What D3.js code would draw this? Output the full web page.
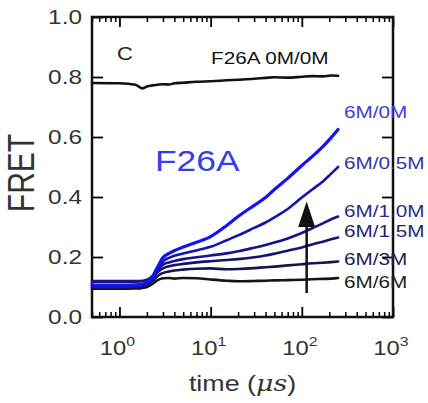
<!DOCTYPE html>
<meta charset="utf-8">
<style>
  body { margin: 0; background: #fff; }
  svg text { font-family: "Liberation Sans", Arial, sans-serif; }
</style>
<div id="chart"></div>
<script src="https://d3js.org/d3.v7.min.js"></script>
<script>

// time points in microseconds
var times = [0.5, 1, 1.5, 1.8, 2, 2.3, 2.6, 3, 3.5, 4, 5, 7, 10, 15, 20, 30, 40, 50, 70, 100, 130, 170, 210, 250];

// FRET traces
var wt0 = [0.78, 0.779, 0.774, 0.762, 0.768, 0.772, 0.774, 0.776, 0.775, 0.779, 0.781, 0.784, 0.786, 0.789, 0.791, 0.794, 0.797, 0.799, 0.798, 0.801, 0.803, 0.802, 0.805, 0.804];
var s0   = [0.106, 0.106, 0.107, 0.110, 0.116, 0.135, 0.165, 0.198, 0.212, 0.221, 0.233, 0.249, 0.268, 0.305, 0.335, 0.372, 0.398, 0.425, 0.462, 0.505, 0.535, 0.568, 0.598, 0.625];
var s05  = [0.100, 0.100, 0.101, 0.104, 0.110, 0.128, 0.155, 0.185, 0.197, 0.204, 0.212, 0.222, 0.234, 0.256, 0.272, 0.297, 0.315, 0.332, 0.360, 0.398, 0.425, 0.452, 0.478, 0.500];
var s10  = [0.120, 0.120, 0.120, 0.121, 0.124, 0.136, 0.155, 0.174, 0.182, 0.187, 0.193, 0.199, 0.205, 0.212, 0.219, 0.231, 0.240, 0.248, 0.262, 0.280, 0.296, 0.312, 0.326, 0.335];
var s15  = [0.118, 0.118, 0.118, 0.119, 0.121, 0.132, 0.148, 0.162, 0.169, 0.173, 0.177, 0.182, 0.186, 0.190, 0.193, 0.199, 0.205, 0.211, 0.221, 0.232, 0.242, 0.251, 0.259, 0.265];
var s3   = [0.098, 0.098, 0.099, 0.101, 0.106, 0.120, 0.136, 0.147, 0.152, 0.155, 0.158, 0.161, 0.162, 0.159, 0.160, 0.163, 0.166, 0.168, 0.172, 0.176, 0.179, 0.181, 0.183, 0.185];
var s6   = [0.094, 0.094, 0.095, 0.097, 0.100, 0.110, 0.122, 0.129, 0.130, 0.128, 0.130, 0.129, 0.125, 0.121, 0.119, 0.120, 0.121, 0.122, 0.123, 0.124, 0.126, 0.127, 0.128, 0.130];

var seriesNames = ["F26A 0M/0M", "6M/0M", "6M/0.5M", "6M/1.0M", "6M/1.5M", "6M/3M", "6M/6M"];
var seriesValues = [wt0, s0, s05, s10, s15, s3, s6];
var lineColors = ["#111", "#1414ee", "#1414aa", "#14148c", "#141470", "#14144a", "#151515"];
var labelColors = ["#111", "#3c3ce0", "#3434a8", "#2c2c8c", "#262670", "#22224c", "#222"];

var yTicks = [0.0, 0.2, 0.4, 0.6, 0.8, 1.0];
var xDecades = [1, 10, 100, 1000];

var width = 428, height = 403;
var margin = {top: 17, right: 35, bottom: 86, left: 92};
var sx = 1.22; // text in the figure is drawn wide

var svg = d3.select("#chart").append("svg")
    .attr("width", width)
    .attr("height", height);

var x = d3.scaleLog()
    .domain([0.5, 1000])
    .range([margin.left, width - margin.right]);

var y = d3.scaleLinear()
    .domain([0, 1])
    .range([height - margin.bottom, margin.top]);

var x0 = x.range()[0], x1 = x.range()[1];
var y0 = y.range()[0], y1 = y.range()[1];

function wide(px, py) { return "translate(" + px + "," + py + ") scale(" + sx + ",1)"; }

// minor ticks for log axis
var minorTicks = [];
[0.1, 1, 10, 100].forEach(function(d) {
  for (var k = 2; k <= 9; k++) {
    var v = d * k;
    if (v >= 0.5 && v < 1000) minorTicks.push(v);
  }
});

function drawXTicks(axisFn, ypos) {
  svg.append("g")
    .attr("transform", "translate(0," + ypos + ")")
    .call(axisFn(x).tickValues(minorTicks).tickSize(-5).tickFormat(""))
    .call(function(g) { g.select(".domain").remove(); g.selectAll("line").attr("stroke-width", 1.5); });
  svg.append("g")
    .attr("transform", "translate(0," + ypos + ")")
    .call(axisFn(x).tickValues(xDecades).tickSize(-10).tickFormat(""))
    .call(function(g) { g.select(".domain").remove(); g.selectAll("line").attr("stroke-width", 1.8); });
}
drawXTicks(d3.axisBottom, y0);
drawXTicks(d3.axisTop, y1);

svg.append("g")
  .attr("transform", "translate(" + x0 + ",0)")
  .call(d3.axisLeft(y).tickValues(yTicks).tickSize(-11).tickFormat(""))
  .call(function(g) { g.select(".domain").remove(); g.selectAll("line").attr("stroke-width", 1.8); });
svg.append("g")
  .attr("transform", "translate(" + x1 + ",0)")
  .call(d3.axisRight(y).tickValues(yTicks).tickSize(-11).tickFormat(""))
  .call(function(g) { g.select(".domain").remove(); g.selectAll("line").attr("stroke-width", 1.8); });

// frame
svg.append("rect")
  .attr("x", x0).attr("y", y1)
  .attr("width", x1 - x0).attr("height", y0 - y1)
  .attr("fill", "none").attr("stroke", "#111").attr("stroke-width", 2.5);

// y tick labels
svg.append("g").selectAll("text")
  .data(yTicks)
  .enter().append("text")
    .attr("transform", function(d) { return wide(x0 - 10, y(d)); })
    .attr("dy", "0.36em")
    .attr("text-anchor", "end")
    .attr("font-size", 20)
    .attr("fill", "#333")
    .text(function(d) { return d.toFixed(1); });

// x tick labels 10^n
var xl = svg.append("g").selectAll("text")
  .data(xDecades)
  .enter().append("text")
    .attr("transform", function(d) { return wide(x(d) - 2, y0 + 38); })
    .attr("text-anchor", "middle")
    .attr("font-size", 19.5)
    .attr("fill", "#333");
xl.append("tspan").text("10");
xl.append("tspan")
  .attr("dy", -9)
  .attr("font-size", 13)
  .text(function(d) { return Math.round(Math.log10(d)); });

// axis titles
svg.append("text")
  .attr("transform", "translate(21,173) scale(" + sx + ",1) rotate(-90)")
  .attr("dy", "0.36em")
  .attr("text-anchor", "middle")
  .attr("font-size", 30)
  .attr("fill", "#333")
  .text("FRET");

var xt = svg.append("text")
  .attr("transform", wide((x0 + x1) / 2, y0 + 74))
  .attr("text-anchor", "middle")
  .attr("font-size", 22)
  .attr("fill", "#333");
xt.append("tspan").text("time (");
xt.append("tspan").attr("font-style", "italic").attr("font-family", "DejaVu Serif, serif").text("\u03bcs");
xt.append("tspan").text(")");

// traces
var line = d3.line()
  .x(function(d) { return x(d[0]); })
  .y(function(d) { return y(d[1]); })
  .curve(d3.curveMonotoneX);

svg.append("g").selectAll("path")
  .data(seriesValues.map(function(vals, i) { return {i: i, pts: times.map(function(t, j) { return [t, vals[j]]; })}; }).reverse())
  .enter().append("path")
    .attr("d", function(d) { return line(d.pts); })
    .attr("fill", "none")
    .attr("stroke", function(d) { return lineColors[d.i]; })
    .attr("stroke-width", function(d) { return d.i === 1 ? 3.2 : 2.6; })
    .attr("stroke-linejoin", "round")
    .attr("stroke-linecap", "round");

// series labels
var labelPos = [
  {t: 1.1, v: 0.845},
  {t: 290, v: 0.665},
  {t: 290, v: 0.495},
  {t: 290, v: 0.335},
  {t: 290, v: 0.268},
  {t: 290, v: 0.175},
  {t: 290, v: 0.098}
];
svg.append("g").selectAll("text")
  .data(seriesNames)
  .enter().append("text")
    .attr("transform", function(d, i) { return wide(i === 0 ? 211 : x(labelPos[i].t), y(labelPos[i].v)); })
    .attr("font-size", 17)
    .attr("fill", function(d, i) { return labelColors[i]; })
    .text(function(d) { return d; });

// panel letter and mutant name
svg.append("text")
  .attr("transform", wide(117, 60))
  .attr("font-size", 18).attr("fill", "#222")
  .text("C");
svg.append("text")
  .attr("transform", wide(155, 171))
  .attr("font-size", 29).attr("fill", "#2f3ff0")
  .text("F26A");

// arrow
var arrowT = 113;
svg.append("line")
  .attr("x1", x(arrowT)).attr("x2", x(arrowT))
  .attr("y1", y(0.08)).attr("y2", y(0.32))
  .attr("stroke", "#111").attr("stroke-width", 2.5);
svg.append("path")
  .attr("d", "M" + x(arrowT) + "," + y(0.385) + "L" + (x(arrowT) - 8.5) + "," + y(0.30) + "L" + (x(arrowT) + 8.5) + "," + y(0.30) + "Z")
  .attr("fill", "#111");

</script>
